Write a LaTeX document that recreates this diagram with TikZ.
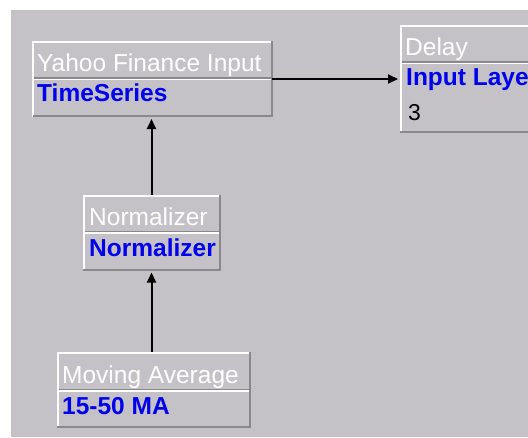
\documentclass[tikz,border=0pt]{standalone}
\usepackage{fontspec}
\setmainfont{Liberation Sans}
\usetikzlibrary{arrows.meta}
\definecolor{bg}{RGB}{196,194,198}
\definecolor{edgedark}{RGB}{138,136,140}
\definecolor{hiblue}{RGB}{0,0,235}
\tikzset{
  panel/.style={rectangle, fill=bg, inner sep=0pt, outer sep=0pt, anchor=north west},
  hil/.style={draw=white, line width=2pt},
  shd/.style={draw=edgedark, line width=2pt},
  ttl/.style={anchor=base west, inner sep=0pt, text=white, font=\fontsize{24.5}{24.5}\selectfont},
  typ/.style={anchor=base west, inner sep=0pt, text=hiblue, font=\fontsize{24.5}{24.5}\selectfont\bfseries},
  val/.style={anchor=base west, inner sep=0pt, text=black, font=\fontsize{23}{23}\selectfont},
  arr/.style={line width=2pt, black, -{Triangle[length=10pt,width=9pt]}, shorten >=2pt}
}
\begin{document}
\begin{tikzpicture}[x=1pt,y=-1pt]
\useasboundingbox (0,0) rectangle (528,437);
\clip (0,0) rectangle (528,437);
\fill[white] (0,0) rectangle (528,437);
\fill[bg] (11,10) rectangle (528,437);

% Yahoo Finance Input
\node[panel, minimum width=239pt, minimum height=76pt] (yahoo) at (33,41) {};
\draw[hil] (33,117) -- (33,42) -- (272,42);
\draw[shd] (272,41) -- (272,116) -- (33,116);
\draw[draw=edgedark, line width=1.5pt] (34,78) -- (271,78);
\draw[draw=white, line width=1.5pt] (34,79.5) -- (271,79.5);
\node[ttl] (yahooT) at (37,71.5) {Yahoo Finance Input};
\node[typ] (yahooB) at (37,101) {TimeSeries};

% Delay
\node[panel, minimum width=160pt, minimum height=108pt] (delay) at (400,25) {};
\draw[hil] (401,133) -- (401,26) -- (560,26);
\draw[shd] (400,132) -- (560,132);
\draw[draw=edgedark, line width=1.5pt] (402,62) -- (560,62);
\draw[draw=white, line width=1.5pt] (402,63.5) -- (560,63.5);
\node[ttl] (delayT) at (405,55) {Delay};
\node[typ] (delayB) at (406,85.5) {Input Layer};
\node[val] (delayV) at (408,120) {3};

% Normalizer
\node[panel, minimum width=137pt, minimum height=76pt] (norm) at (83,194.5) {};
\draw[hil] (84,270.5) -- (84,195.5) -- (220,195.5);
\draw[shd] (220,194.5) -- (220,269.5) -- (83,269.5);
\draw[draw=edgedark, line width=1.5pt] (85,231.5) -- (219,231.5);
\draw[draw=white, line width=1.5pt] (85,233) -- (219,233);
\node[ttl] (normT) at (89,225) {Normalizer};
\node[typ] (normB) at (89,256) {Normalizer};

% Moving Average
\node[panel, minimum width=193pt, minimum height=76pt] (ma) at (57,352) {};
\draw[hil] (58,428) -- (58,353) -- (250,353);
\draw[shd] (250,352) -- (250,427) -- (57,427);
\draw[draw=edgedark, line width=1.5pt] (59,389.5) -- (249,389.5);
\draw[draw=white, line width=1.5pt] (59,391) -- (249,391);
\node[ttl] (maT) at (62,383) {Moving Average};
\node[typ] (maB) at (62,414) {15-50 MA};

% connectors
\draw[arr] (yahoo.east) -- (delay.west);
\draw[arr] (norm.north) -- (norm.north |- yahoo.south);
\draw[arr] (norm.south |- ma.north) -- (norm.south);
\end{tikzpicture}
\end{document}
